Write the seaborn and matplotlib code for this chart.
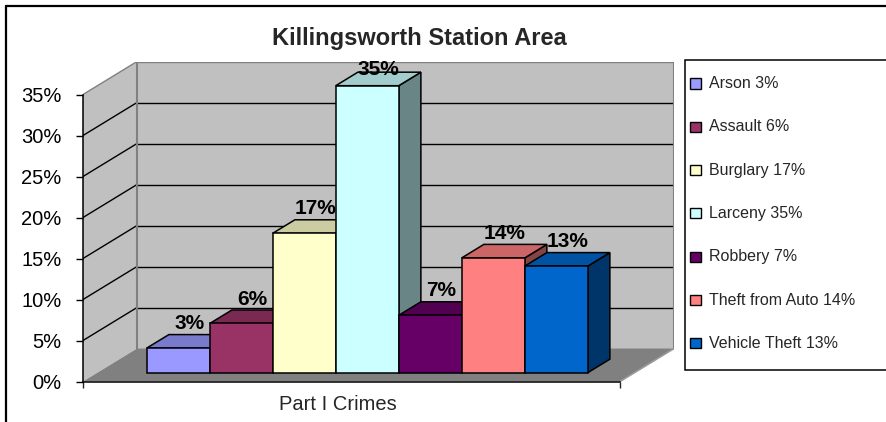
import matplotlib
matplotlib.use("Agg")
import matplotlib.pyplot as plt
from matplotlib.patches import Polygon, Rectangle
from matplotlib.lines import Line2D
from matplotlib.transforms import Affine2D
import seaborn as sns

# Crime categories and their share of Part I crimes (%)
crimes = ["Arson", "Assault", "Burglary", "Larceny", "Robbery",
          "Theft from Auto", "Vehicle Theft"]
shares = [3, 6, 17, 35, 7, 14, 13]
colors = ["#9999FF", "#993366", "#FFFFCC", "#CCFFFF", "#660066",
          "#FF8080", "#0066CC"]
y_ticks = [0, 5, 10, 15, 20, 25, 30, 35]
title = "Killingsworth Station Area"
category_label = "Part I Crimes"

sns.set_style("white")
plt.rcParams["font.family"] = ["Liberation Sans", "DejaVu Sans"]

W, H = 887, 422
fig = plt.figure(figsize=(W / 100, H / 100), dpi=100)

# oblique projection: full floor depth shifts points right/up by (DX, DY)
DX, DY = 0.857, 4.02
D0, DD = 0.267, 0.41          # bar front-plane depth and bar thickness
x_left = -1.283
x_front_right = 7.241
y_max = y_ticks[-1]

ax = fig.add_axes([83 / W, (H - 381.5) / H,
                   (x_front_right + DX - x_left) * 63 / W,
                   (y_max + DY) * 8.2 / H])

labels = [f"{c} {v}%" for c, v in zip(crimes, shares)]
sns.barplot(x=labels, y=shares, hue=labels, palette=colors, width=1.0,
            saturation=1, edgecolor="black", linewidth=1.1, legend=False,
            ax=ax)
bars = sorted(ax.patches, key=lambda p: p.get_x())

ax.set_xlim(x_left, x_front_right + DX)
ax.set_ylim(0, y_max + DY)
ax.patch.set_visible(False)

wall = "#C0C0C0"
edge_gray = "#808080"
# left side wall
ax.add_patch(Polygon([(x_left, 0), (x_left, y_max), (x_left + DX, y_max + DY),
                      (x_left + DX, DY)], closed=True, facecolor=wall,
                     edgecolor="none", zorder=0))
# back wall
ax.add_patch(Rectangle((x_left + DX, DY), x_front_right - x_left, y_max,
                       facecolor=wall, edgecolor="none", zorder=0))
# floor
ax.add_patch(Polygon([(x_left, 0), (x_front_right, 0),
                      (x_front_right + DX, DY), (x_left + DX, DY)],
                     closed=True, facecolor="#808080", edgecolor="none",
                     zorder=0))
# gridlines on the walls
for t in y_ticks[1:]:
    col = edge_gray if t == y_max else "black"
    ax.plot([x_left, x_left + DX], [t, t + DY], color=col, lw=1, zorder=1)
    ax.plot([x_left + DX, x_front_right + DX], [t + DY, t + DY], color=col,
            lw=1, zorder=1)
# wall edges
ax.plot([x_left + DX, x_left + DX], [DY, y_max + DY], color=edge_gray, lw=1.5,
        zorder=1)
ax.plot([x_front_right + DX, x_front_right + DX], [DY, y_max + DY],
        color=edge_gray, lw=1.5, zorder=1)
ax.plot([x_front_right, x_front_right + DX], [0, DY], color="#9A9A9A", lw=1.2,
        zorder=1)


def shade(hex_color, f):
    r, g, b = matplotlib.colors.to_rgb(hex_color)
    return (r * f, g * f, b * f)


off = Affine2D().translate(D0 * DX, D0 * DY) + ax.transData
ddx, ddy = DD * DX, DD * DY
for i, (p, col, v) in enumerate(zip(bars, colors, shares)):
    x0 = p.get_x()
    x1 = x0 + p.get_width()
    h = p.get_height()
    base = 10 + 3 * i
    p.set_transform(off)
    p.set_zorder(base + 2)
    top = Polygon([(x0, h), (x1, h), (x1 + ddx, h + ddy), (x0 + ddx, h + ddy)],
                  closed=True, facecolor=shade(col, 0.8), edgecolor="black",
                  lw=1.1, transform=off, zorder=base + 1)
    side = Polygon([(x1, 0), (x1, h), (x1 + ddx, h + ddy), (x1 + ddx, ddy)],
                   closed=True, facecolor=shade(col, 0.52), edgecolor="black",
                   lw=1.1, transform=off, zorder=base)
    ax.add_patch(side)
    ax.add_patch(top)
    # value label above the centre of the top face, kept inside the plot
    cx = (x0 + x1) / 2 + D0 * DX + ddx / 2
    cy = min(h + D0 * DY + ddy / 2 + 2.15, y_max + DY - 1.0)
    ax.text(cx, cy, f"{v}%", ha="center", va="center", fontsize=15,
            fontweight="bold", color="black", zorder=40)

# axes: front value axis and floor front edge
for s in ("top", "right"):
    ax.spines[s].set_visible(False)
ax.spines["left"].set_bounds(0, y_max)
ax.spines["bottom"].set_bounds(x_left, x_front_right)
for s in ("left", "bottom"):
    ax.spines[s].set_color("black")
    ax.spines[s].set_linewidth(1.1)
    ax.spines[s].set_zorder(5)
ax.set_yticks(y_ticks)
ax.set_yticklabels([f"{t}%" for t in y_ticks])
ax.set_xticks([x_left, x_front_right])
ax.set_xticklabels(["", ""])
ax.tick_params(axis="y", direction="out", length=5, width=1, pad=10.5,
               labelsize=14.5, left=True, colors="black")
ax.tick_params(axis="x", direction="out", length=4, width=1, bottom=True)
ax.set_xlabel("")
ax.set_ylabel("")

# title and category label
fig.text(419 / W, 1 - 38.5 / H, title, ha="center", va="center",
         fontsize=17, fontweight="bold")
fig.text(338 / W, 1 - 405 / H, category_label, ha="center", va="center",
         fontsize=14.5)

# legend box with colour swatches
fig.add_artist(Rectangle((685 / W, 1 - 369.5 / H), 220 / W, 309.5 / H,
                         transform=fig.transFigure, facecolor="white",
                         edgecolor="black", lw=1.1))
for i, (lab, col) in enumerate(zip(labels, colors)):
    yc = 83.5 + 43.33 * i
    fig.add_artist(Rectangle((690.5 / W, 1 - (yc + 5) / H), 11 / W, 10 / H,
                             transform=fig.transFigure, facecolor=col,
                             edgecolor="black", lw=1))
    fig.text(709.5 / W, 1 - yc / H, lab, ha="left", va="center",
             fontsize=11.5)

# chart-area border (top and left edges)
fig.add_artist(Line2D([6 / W, 1], [1 - 6 / H, 1 - 6 / H],
                      transform=fig.transFigure, color="black", lw=1.6))
fig.add_artist(Line2D([6 / W, 6 / W], [0, 1 - 6 / H],
                      transform=fig.transFigure, color="black", lw=1.6))

fig.savefig("out.png", dpi=100)
